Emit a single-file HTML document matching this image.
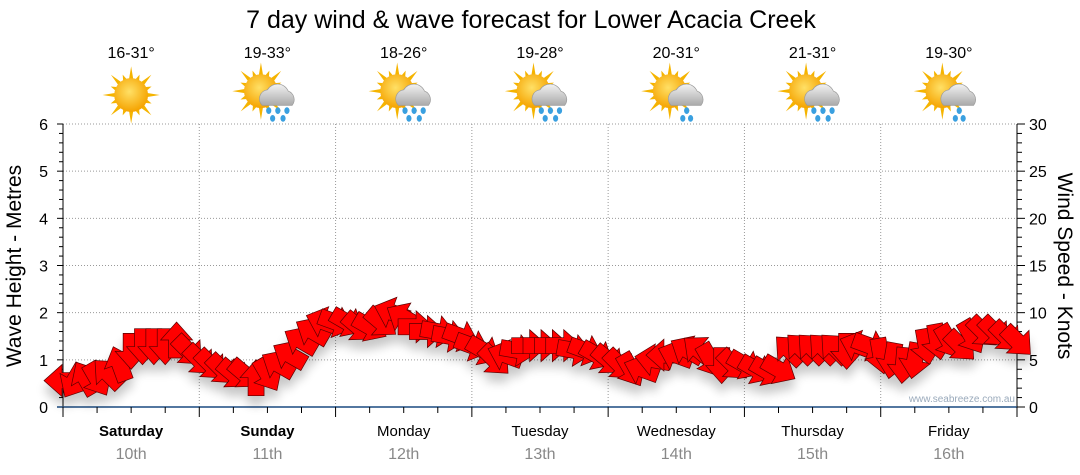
<!DOCTYPE html>
<html><head><meta charset="utf-8"><style>
body{margin:0;background:#fff;}
svg{display:block;font-family:"Liberation Sans","DejaVu Sans",sans-serif;}
</style></head><body>
<svg id="chart" width="1080" height="475" viewBox="0 0 1080 475">
<defs>
<radialGradient id="sunG" cx="45%" cy="40%" r="60%"><stop offset="0" stop-color="#ffe066"/><stop offset="1" stop-color="#f5a300"/></radialGradient>
<linearGradient id="cloudG" x1="0" y1="0" x2="0" y2="1"><stop offset="0" stop-color="#f2f2f2"/><stop offset="1" stop-color="#a9a9a9"/></linearGradient>
<filter id="sh" x="-20%" y="-50%" width="140%" height="200%"><feGaussianBlur in="SourceAlpha" stdDeviation="5"/><feOffset dy="9"/><feComponentTransfer><feFuncA type="linear" slope="0.22"/></feComponentTransfer><feMerge><feMergeNode/><feMergeNode in="SourceGraphic"/></feMerge></filter>
</defs>
<text x="531" y="28" text-anchor="middle" font-size="25" fill="#000">7 day wind &amp; wave forecast for Lower Acacia Creek</text>
<g id="grid"></g><g id="axes"></g><g id="icons"></g><g id="arrows" filter="url(#sh)"></g>
<text transform="translate(21,266) rotate(-90)" text-anchor="middle" font-size="21" fill="#000">Wave Height - Metres</text>
<text transform="translate(1058,266) rotate(90)" text-anchor="middle" font-size="21" fill="#000">Wind Speed - Knots</text>
<text x="1015" y="402" text-anchor="end" font-size="10" fill="#9aaabb">www.seabreeze.com.au</text>
</svg>
<script>
const days=["Saturday","Sunday","Monday","Tuesday","Wednesday","Thursday","Friday"];
const dates=["10th","11th","12th","13th","14th","15th","16th"];
const temps=["16-31°","19-33°","18-26°","19-28°","20-31°","21-31°","19-30°"];
const icons=["sun","rain","rain","rain","shower","rain","shower"];
const waveTicks=[0,1,2,3,4,5,6];
const windTicks=[0,5,10,15,20,25,30];
const windKn=[2.8,2.8,3,3,3.5,4.5,6,6.5,6.5,6.5,7,6,
5,4.5,4,3.5,3.5,3,3.5,4.5,5.5,7,8,9,
9,9,8.5,8.5,9,10,9.5,8.5,8,8,7.5,7.5,
6.5,6,5,5.5,6,6.5,6.5,6.5,6.5,6,6,5.5,
5,4.5,4,4,5,5.5,5.5,6,6,5,4.5,4.5,
4.5,4,3.8,4,6,6.2,6.2,6.2,6.2,6,6.5,6.5,
5.5,5,4.5,5,6.5,7,7,6.5,7.5,8,8,7.5,7];
const windDir=[180,120,240,60,225,250,90,90,90,90,270,45,
45,45,45,40,40,270,60,210,210,210,210,200,
20,30,40,30,40,200,210,0,0,10,10,20,
20,30,45,200,10,0,0,0,0,10,20,30,
40,45,60,200,190,180,200,210,220,60,90,45,
30,30,30,30,225,225,225,225,225,90,200,20,
80,100,95,100,80,80,60,45,60,45,45,45,45];
const NS="http://www.w3.org/2000/svg";
const X0=63,X1=1017,Y0=407,Y1=124;
const xDay=d=>X0+d*(X1-X0)/7;
const yM=m=>Y0-m*(Y0-Y1)/6;
const yK=k=>Y0-k*(Y0-Y1)/30;
function mk(t,a,p){const e=document.createElementNS(NS,t);for(const k in a)e.setAttribute(k,a[k]);(p||document.getElementById('chart')).appendChild(e);return e;}
const G=document.getElementById('grid'),A=document.getElementById('axes'),I=document.getElementById('icons'),W=document.getElementById('arrows');
waveTicks.forEach(m=>{if(m>0){const l=mk('line',{x1:X0,x2:X1,y1:yM(m),y2:yM(m),stroke:'#999','stroke-dasharray':'1,2'},G);

}
const t=mk('text',{x:48,y:yM(m)+6,'text-anchor':'end','font-size':16},A);t.textContent=m;

});
windTicks.forEach(k=>{const t=mk('text',{x:1029,y:yK(k)+6,'font-size':16},A);t.textContent=k;

});
for(let d=1;d<7;d++){const l=mk('line',{x1:xDay(d),x2:xDay(d),y1:Y1,y2:Y0,stroke:'#999','stroke-dasharray':'1,2'},G);

}
mk('line',{x1:X0,x2:X0,y1:Y1,y2:Y0,stroke:'#000'},A);
mk('line',{x1:X1,x2:X1,y1:Y1,y2:Y0,stroke:'#000'},A);
for(let i=0;i<=30;i++){const y=Y0-i*(Y0-Y1)/30;const big=i%5==0;
mk('line',{x1:X0-(big?6:4),x2:X0,y1:y,y2:y,stroke:'#000'},A);
mk('line',{x1:X1,x2:X1+(big?8:5),y1:y,y2:y,stroke:'#000'},A);}
mk('line',{x1:X0-6,x2:X1,y1:Y0,y2:Y0,stroke:'#1a4a80','stroke-width':1.5},A);
for(let i=0;i<=28;i++){const x=X0+i*(X1-X0)/28;mk('line',{x1:x,x2:x,y1:Y0,y2:Y0+(i%4==0?10:6),stroke:'#000'},A);}
days.forEach((d,i)=>{const cx=(xDay(i)+xDay(i+1))/2;
const t=mk('text',{x:cx,y:436,'text-anchor':'middle','font-size':15,'font-weight':i<2?'bold':'normal'},A);t.textContent=d;


const t2=mk('text',{x:cx,y:459,'text-anchor':'middle','font-size':16,fill:'#888'},A);t2.textContent=dates[i];


const t3=mk('text',{x:cx,y:58,'text-anchor':'middle','font-size':16},I);t3.textContent=temps[i];


const g=mk('g',{transform:`translate(${cx},95) scale(1.3)`},I);


const sx=icons[i]=='sun'?0:-5,sy=icons[i]=='sun'?0:-3;
for(let r=0;r<16;r++){const a=r*Math.PI/8,L=r%2?17:22;mk('polygon',{points:`${sx+Math.cos(a-0.14)*12},${sy+Math.sin(a-0.14)*12} ${sx+Math.cos(a)*L},${sy+Math.sin(a)*L} ${sx+Math.cos(a+0.14)*12},${sy+Math.sin(a+0.14)*12}`,fill:'#f5b400'},g);}
mk('circle',{cx:sx,cy:sy,r:13,fill:'url(#sunG)'},g);
if(icons[i]!='sun'){mk('path',{d:'M-4,8 a7,7 0 0 1 4,-12 a9,9 0 0 1 16,1 a7,7 0 0 1 3,11 z',fill:'url(#cloudG)',stroke:'#999','stroke-width':0.5},g);
const drops=icons[i]=='rain'?[[1,12],[8,12],[15,12],[4,18],[12,18]]:[[8,12],[5,18],[11,18]];
drops.forEach(p=>mk('ellipse',{cx:p[0],cy:p[1],rx:2,ry:2.6,fill:'#3aa0e0'},g));}
});
const n=windKn.length;
windKn.forEach((k,i)=>{const x=X0+i*(X1-X0)/(n-1),y=yK(k);
const p=mk('polygon',{points:'-17,-8 1,-8 1,-16 19,0 1,16 1,8 -17,8',fill:'#ff0000',stroke:'#5a0000','stroke-width':0.7,transform:`translate(${x},${y}) rotate(${windDir[i]})`},W);

});
</script>
</body></html>
